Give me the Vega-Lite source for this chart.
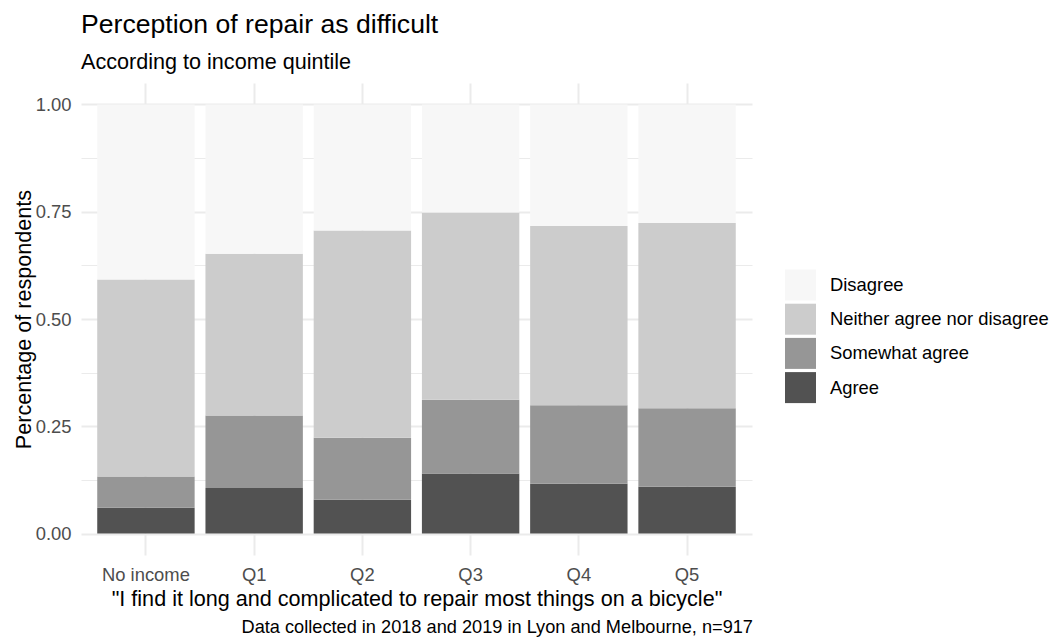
{
  "$schema": "https://vega.github.io/schema/vega-lite/v6.json",
  "background": "white",
  "padding": {"left": 13, "top": 11, "right": 0, "bottom": 0},
  "config": {
    "font": "Liberation Sans",
    "view": {"stroke": null},
    "concat": {"spacing": 0}
  },
  "title": {
    "text": "Data collected in 2018 and 2019 in Lyon and Melbourne, n=917",
    "orient": "bottom",
    "anchor": "end",
    "frame": "group",
    "fontSize": 18.2,
    "fontWeight": "normal",
    "color": "#000000",
    "offset": 9,
    "dx": 1
  },
  "resolve": {"legend": {"color": "independent"}},
  "vconcat": [
    {
      "width": 671,
      "height": 472,
      "title": {
        "text": "Perception of repair as difficult",
        "subtitle": "According to income quintile",
        "anchor": "start",
        "frame": "group",
        "fontSize": 26.6,
        "fontWeight": "normal",
        "color": "#000000",
        "subtitleFontSize": 21.6,
        "subtitleColor": "#000000",
        "subtitlePadding": 14,
        "offset": 9
      },
      "data": {
        "values": [
          {"income": "No income", "response": "Agree", "level": 4, "share": 0.060},
          {"income": "No income", "response": "Somewhat agree", "level": 3, "share": 0.073},
          {"income": "No income", "response": "Neither agree nor disagree", "level": 2, "share": 0.459},
          {"income": "No income", "response": "Disagree", "level": 1, "share": 0.408},
          {"income": "Q1", "response": "Agree", "level": 4, "share": 0.106},
          {"income": "Q1", "response": "Somewhat agree", "level": 3, "share": 0.169},
          {"income": "Q1", "response": "Neither agree nor disagree", "level": 2, "share": 0.377},
          {"income": "Q1", "response": "Disagree", "level": 1, "share": 0.348},
          {"income": "Q2", "response": "Agree", "level": 4, "share": 0.079},
          {"income": "Q2", "response": "Somewhat agree", "level": 3, "share": 0.144},
          {"income": "Q2", "response": "Neither agree nor disagree", "level": 2, "share": 0.483},
          {"income": "Q2", "response": "Disagree", "level": 1, "share": 0.294},
          {"income": "Q3", "response": "Agree", "level": 4, "share": 0.140},
          {"income": "Q3", "response": "Somewhat agree", "level": 3, "share": 0.172},
          {"income": "Q3", "response": "Neither agree nor disagree", "level": 2, "share": 0.436},
          {"income": "Q3", "response": "Disagree", "level": 1, "share": 0.252},
          {"income": "Q4", "response": "Agree", "level": 4, "share": 0.116},
          {"income": "Q4", "response": "Somewhat agree", "level": 3, "share": 0.183},
          {"income": "Q4", "response": "Neither agree nor disagree", "level": 2, "share": 0.418},
          {"income": "Q4", "response": "Disagree", "level": 1, "share": 0.283},
          {"income": "Q5", "response": "Agree", "level": 4, "share": 0.109},
          {"income": "Q5", "response": "Somewhat agree", "level": 3, "share": 0.183},
          {"income": "Q5", "response": "Neither agree nor disagree", "level": 2, "share": 0.432},
          {"income": "Q5", "response": "Disagree", "level": 1, "share": 0.276}
        ]
      },
      "mark": {"type": "bar"},
      "encoding": {
        "x": {
          "field": "income",
          "type": "nominal",
          "sort": ["No income", "Q1", "Q2", "Q3", "Q4", "Q5"],
          "scale": {"paddingInner": 0.1, "paddingOuter": 0.15},
          "axis": {
            "title": "\"I find it long and complicated to repair most things on a bicycle\"",
            "titleFontSize": 21.6,
            "titleFontWeight": "normal",
            "titleColor": "#000000",
            "titlePadding": 5,
            "labelAngle": 0,
            "labelFontSize": 18.4,
            "labelColor": "#4d4d4d",
            "labelPadding": 10,
            "ticks": false,
            "domain": false,
            "grid": true,
            "bandPosition": 0.5,
            "gridColor": "#ebebeb",
            "gridWidth": 2
          }
        },
        "y": {
          "field": "share",
          "type": "quantitative",
          "stack": "zero",
          "scale": {"domain": [-0.05, 1.05], "nice": false, "zero": false},
          "axis": {
            "title": "Percentage of respondents",
            "titleFontSize": 21.6,
            "titleFontWeight": "normal",
            "titleColor": "#000000",
            "titlePadding": 0,
            "values": [0, 0.125, 0.25, 0.375, 0.5, 0.625, 0.75, 0.875, 1],
            "format": ".2f",
            "labelExpr": "(datum.value * 4) % 1 == 0 ? datum.label : ''",
            "labelFontSize": 18.4,
            "labelColor": "#4d4d4d",
            "labelPadding": 10,
            "ticks": false,
            "domain": false,
            "grid": true,
            "gridColor": "#ebebeb",
            "gridWidth": {"condition": {"test": "(datum.value * 4) % 1 != 0", "value": 1.2}, "value": 2}
          }
        },
        "order": {"field": "level", "type": "quantitative", "sort": "descending"},
        "color": {
          "field": "response",
          "type": "nominal",
          "sort": ["Disagree", "Neither agree nor disagree", "Somewhat agree", "Agree"],
          "scale": {
            "domain": ["Disagree", "Neither agree nor disagree", "Somewhat agree", "Agree"],
            "range": ["#f7f7f7", "#cccccc", "#969696", "#525252"]
          },
          "legend": {
            "title": null,
            "orient": "none",
            "legendX": 704,
            "legendY": 186.5,
            "symbolType": "square",
            "symbolSize": 961,
            "symbolStrokeWidth": 0,
            "labelFontSize": 18.4,
            "labelColor": "#000000",
            "labelOffset": 14,
            "labelLimit": 400,
            "rowPadding": 3.2
          }
        }
      }
    }
  ]
}
